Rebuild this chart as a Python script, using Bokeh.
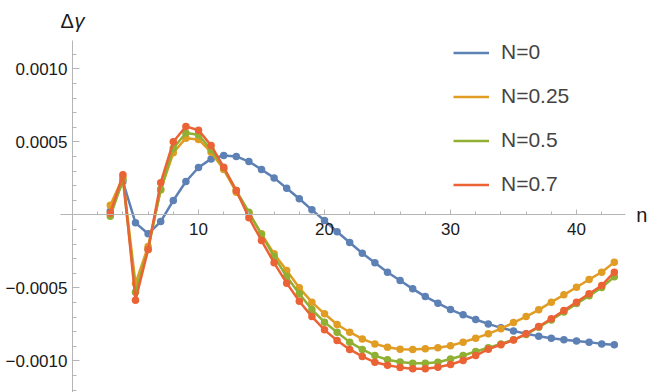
import numpy as np
from bokeh.plotting import figure
from bokeh.models import (Range1d, FixedTicker, CustomJSTickFormatter, Legend, LegendItem, Label,
                          LinearAxis)
from bokeh.embed import file_html
from bokeh.resources import INLINE

# data (values in units of 1e-4)
n = list(range(3, 44))
scale = 1e-4
N0 = [0.25, 2.28, -0.55, -1.3, -0.46, 0.98, 2.28, 3.24, 3.83, 4.06, 4.0, 3.65, 3.1, 2.53, 1.82,
      1.1, 0.34, -0.39, -1.16, -1.9, -2.63, -3.29, -3.93, -4.5, -5.07, -5.6, -6.05, -6.49, -6.85,
      -7.17, -7.47, -7.74, -7.95, -8.15, -8.31, -8.45, -8.56, -8.65, -8.72, -8.84, -8.9]
N025 = [0.66, 2.55, -4.7, -2.17, 1.7, 4.25, 5.25, 5.16, 4.29, 3.1, 1.55, 0.1, -1.3, -2.67, -3.82,
        -5.0, -5.98, -6.78, -7.51, -8.04, -8.5, -8.84, -9.07, -9.2, -9.22, -9.18, -9.11, -8.97,
        -8.72, -8.45, -8.15, -7.8, -7.38, -6.97, -6.51, -5.98, -5.48, -4.96, -4.43, -3.93, -3.24]
N05 = [-0.1, 2.4, -5.3, -2.38, 1.75, 4.56, 5.6, 5.48, 4.45, 3.2, 1.66, 0.18, -1.35, -2.86, -4.23,
       -5.41, -6.49, -7.35, -8.04, -8.72, -9.22, -9.64, -9.93, -10.08, -10.16, -10.16, -10.1,
       -9.87, -9.64, -9.36, -9.1, -8.85, -8.55, -8.2, -7.7, -7.2, -6.65, -6.08, -5.55, -4.98, -4.25]
N07 = [0.1, 2.74, -5.85, -2.38, 2.2, 5.0, 6.05, 5.8, 4.75, 3.26, 1.66, -0.2, -1.76, -3.29, -4.68,
       -5.92, -6.97, -7.88, -8.61, -9.22, -9.7, -10.1, -10.3, -10.45, -10.55, -10.55, -10.44,
       -10.25, -9.98, -9.64, -9.2, -8.9, -8.58, -8.15, -7.65, -7.12, -6.55, -5.98, -5.41, -4.84, -3.93]
labels = ["N=0", "N=0.25", "N=0.5", "N=0.7"]
colors = ["#5E81B5", "#E19C24", "#8FB032", "#EB6235"]
x_major = [10, 20, 30, 40]
x_minor = list(range(0, 44, 2))
y_major = [-0.0010, -0.0005, 0.0005, 0.0010]
y_minor = [k * 1e-4 for k in range(-12, 12)]

FONT = "Liberation Sans"

p = figure(width=654, height=392, output_backend="svg", toolbar_location=None,
           x_range=Range1d(-5.714, 46.19), y_range=Range1d(-12.17e-4, 14.68e-4),
           x_axis_location=None, y_axis_location=None,
           min_border_left=0, min_border_right=0, min_border_top=0, min_border_bottom=0)
p.outline_line_color = None
p.xgrid.visible = False
p.ygrid.visible = False

xa = LinearAxis(fixed_location=0, ticker=FixedTicker(ticks=x_major, minor_ticks=x_minor),
                bounds=(-0.95, 43.9))
ya = LinearAxis(fixed_location=0, ticker=FixedTicker(ticks=y_major, minor_ticks=y_minor),
                bounds=(-12.17e-4, 11.94e-4),
                formatter=CustomJSTickFormatter(code="return (tick < 0 ? '\u2212' : '') + Math.abs(tick).toFixed(4);"))
for ax, (mi, mn) in ((xa, (5, 3)), (ya, (7, 4))):
    ax.axis_line_color = "#b5b5b5"
    ax.major_tick_line_color = "#b5b5b5"
    ax.minor_tick_line_color = "#b5b5b5"
    ax.major_tick_in = mi
    ax.major_tick_out = 0
    ax.minor_tick_in = mn
    ax.minor_tick_out = 0
    ax.major_label_text_font = FONT
    ax.major_label_text_font_size = "17px"
    ax.major_label_text_color = "#1a1a1a"
xa.major_label_standoff = 8
ya.major_label_standoff = 5
p.add_layout(xa, "below")
p.add_layout(ya, "left")

items = []
for ys, lab, col in zip([N0, N025, N05, N07], labels, colors):
    yv = np.array(ys) * scale
    r = p.line(n, yv, line_color=col, line_width=2.5)
    p.scatter(n, yv, size=7.5, fill_color=col, line_color=None)
    items.append(LegendItem(label=lab, renderers=[r]))

leg = Legend(items=items, location=(453, 196), orientation="vertical",
             glyph_width=36, glyph_height=21, label_height=21, spacing=20,
             label_standoff=12, padding=0, margin=0,
             label_text_font=FONT, label_text_font_size="21px",
             border_line_color=None, background_fill_alpha=0)
p.add_layout(leg)

p.add_layout(Label(x=44.75, y=0, text="n", text_font=FONT, text_font_size="20px",
                   text_baseline="middle", text_align="left", text_color="#1a1a1a"))
p.add_layout(Label(x=-0.95, y=13.3e-4, text="Δ", text_font=FONT, text_font_size="20px",
                   text_baseline="alphabetic", text_align="left", text_color="#1a1a1a"))
p.add_layout(Label(x=0.16, y=13.3e-4, text="γ", text_font=FONT, text_font_size="20px",
                   text_font_style="italic",
                   text_baseline="alphabetic", text_align="left", text_color="#1a1a1a"))

open("out.html", "w").write(file_html(p, INLINE))
